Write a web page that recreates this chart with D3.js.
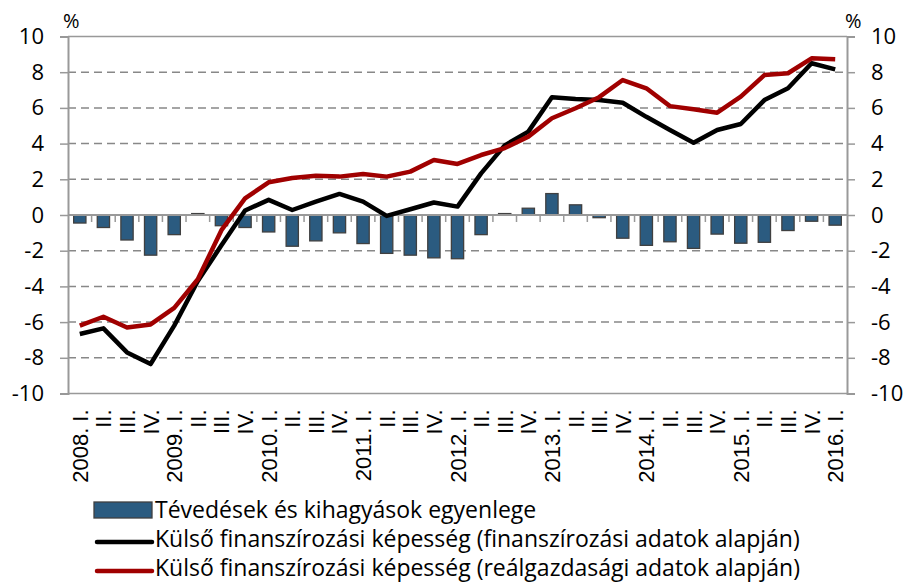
<!DOCTYPE html>
<html>
<head>
<meta charset="utf-8">
<script src="https://cdn.jsdelivr.net/npm/d3@7"></script>
<style>
  body { margin: 0; background: white; }
</style>
</head>
<body>
<svg id="chart" width="909" height="586"></svg>
<script>
// quarters 2008 I - 2016 I
var years = ["2008.", "", "", "", "2009.", "", "", "", "2010.", "", "", "", "2011.", "", "", "",
  "2012.", "", "", "", "2013.", "", "", "", "2014.", "", "", "", "2015.", "", "", "", "2016."];
var quarters = ["I.", "II.", "III.", "IV.", "I.", "II.", "III.", "IV.",
  "I.", "II.", "III.", "IV.", "I.", "II.", "III.", "IV.",
  "I.", "II.", "III.", "IV.", "I.", "II.", "III.", "IV.",
  "I.", "II.", "III.", "IV.", "I.", "II.", "III.", "IV.", "I."];

var errors = [-0.45, -0.7, -1.4, -2.25, -1.1, 0.08, -0.6, -0.7,
  -0.95, -1.75, -1.45, -1.0, -1.6, -2.15, -2.25, -2.4,
  -2.45, -1.1, 0.08, 0.38, 1.2, 0.57, -0.15, -1.3,
  -1.7, -1.5, -1.87, -1.07, -1.58, -1.53, -0.87, -0.35, -0.57];

var financial = [-6.67, -6.35, -7.7, -8.35, -6.2, -3.7, -1.7, 0.25,
  0.85, 0.28, 0.75, 1.18, 0.75, -0.05, 0.32, 0.7,
  0.47, 2.33, 3.9, 4.67, 6.6, 6.5, 6.44, 6.29,
  5.5, 4.76, 4.05, 4.76, 5.1, 6.44, 7.1, 8.5, 8.16];

var real = [-6.2, -5.7, -6.3, -6.13, -5.2, -3.6, -0.85, 0.93,
  1.83, 2.07, 2.2, 2.15, 2.3, 2.15, 2.43, 3.08,
  2.86, 3.36, 3.75, 4.39, 5.42, 5.98, 6.6, 7.56,
  7.1, 6.1, 5.92, 5.73, 6.63, 7.84, 7.94, 8.78, 8.72];

var yTicks = [-10, -8, -6, -4, -2, 0, 2, 4, 6, 8, 10];

var legendLabels = ["Tévedések és kihagyások egyenlege",
  "Külső finanszírozási képesség (finanszírozási adatok alapján)",
  "Külső finanszírozási képesség (reálgazdasági adatok alapján)"];

var svg = d3.select("#chart");
var pLeft = 68, pRight = 847, pTop = 36.5, pBottom = 393.5;

var x = d3.scaleBand().domain(d3.range(quarters.length)).range([pLeft, pRight]).paddingInner(0.48).paddingOuter(0.24);
var xc = function (i) { return x(i) + x.bandwidth() / 2; };
var step = x.step();
var y = d3.scaleLinear().domain([-10, 10]).range([pBottom, pTop]);

var numFont = "'Open Sans', Lato, sans-serif";

// grid lines
svg.append("g")
  .selectAll("line")
  .data(yTicks.filter(function (d) { return d != 0 && d != -10 && d != 10; }))
  .enter()
  .append("line")
  .attr("x1", pLeft)
  .attr("x2", pRight)
  .attr("y1", function (d) { return y(d); })
  .attr("y2", function (d) { return y(d); })
  .attr("stroke", "#888")
  .attr("stroke-width", 1.5)
  .attr("stroke-dasharray", "8,5");

svg.append("line")
  .attr("x1", pLeft).attr("x2", pRight)
  .attr("y1", y(10)).attr("y2", y(10))
  .attr("stroke", "#999").attr("stroke-width", 1.5);
svg.append("line")
  .attr("x1", pLeft).attr("x2", pRight)
  .attr("y1", y(-10)).attr("y2", y(-10))
  .attr("stroke", "#999").attr("stroke-width", 1.5);

// left and right axes
var yLeft = svg.append("g")
  .attr("transform", "translate(" + pLeft + ",0)")
  .call(d3.axisLeft(y).tickValues(yTicks).tickSize(8).tickFormat(function (d) { return String(d); }));
var yRight = svg.append("g")
  .attr("transform", "translate(" + pRight + ",0)")
  .call(d3.axisRight(y).tickValues(yTicks).tickSize(8).tickFormat(function (d) { return String(d); }));
[yLeft, yRight].forEach(function (g) {
  g.select(".domain").attr("stroke", "#999").attr("stroke-width", 2);
  g.selectAll(".tick line").attr("stroke", "#999").attr("stroke-width", 1.5);
  g.selectAll(".tick text")
    .style("font-family", numFont)
    .style("font-size", "22px")
    .attr("fill", "#000");
});
yLeft.selectAll(".tick text").attr("x", -24);
yRight.selectAll(".tick text").attr("x", 24);

svg.append("text")
  .attr("x", 63).attr("y", 28)
  .style("font-family", numFont).style("font-size", "20px")
  .text("%");
svg.append("text")
  .attr("x", 845).attr("y", 28)
  .style("font-family", numFont).style("font-size", "20px")
  .text("%");

// bars
svg.append("g")
  .selectAll("rect")
  .data(errors)
  .enter()
  .append("rect")
  .attr("x", function (d, i) { return x(i); })
  .attr("y", function (d) { return y(Math.max(d, 0)); })
  .attr("width", x.bandwidth())
  .attr("height", function (d) { return Math.abs(y(d) - y(0)); })
  .attr("fill", "#2B5B80")
  .attr("stroke", "#404040")
  .attr("stroke-width", 1.3);

// zero axis with category ticks
svg.append("line")
  .attr("x1", pLeft).attr("x2", pRight)
  .attr("y1", y(0)).attr("y2", y(0))
  .attr("stroke", "#999").attr("stroke-width", 2);
svg.append("g")
  .selectAll("line")
  .data(d3.range(1, quarters.length))
  .enter()
  .append("line")
  .attr("x1", function (i) { return pLeft + i * step; })
  .attr("x2", function (i) { return pLeft + i * step; })
  .attr("y1", y(0))
  .attr("y2", y(0) + 7)
  .attr("stroke", "#999")
  .attr("stroke-width", 1.5);

// category labels at bottom
var xLabels = svg.append("g")
  .selectAll("text")
  .data(quarters)
  .enter()
  .append("text")
  .attr("transform", function (d, i) { return "translate(" + (xc(i) + 8) + "," + (pBottom + 16) + ") rotate(-90)"; })
  .attr("text-anchor", "end")
  .style("font-family", "'Liberation Sans', Arial, sans-serif")
  .style("font-size", "22px");
xLabels.append("tspan")
  .text(function (d, i) { return years[i]; });
xLabels.append("tspan")
  .attr("dx", function (d, i) { return years[i] ? 6 : 0; })
  .text(function (d) { return d; });

// lines
var line = d3.line()
  .x(function (d, i) { return xc(i); })
  .y(function (d) { return y(d); });

svg.append("path")
  .datum(financial)
  .attr("d", line)
  .attr("fill", "none")
  .attr("stroke", "#000")
  .attr("stroke-width", 4.5)
  .attr("stroke-linejoin", "round");

svg.append("path")
  .datum(real)
  .attr("d", line)
  .attr("fill", "none")
  .attr("stroke", "#A00000")
  .attr("stroke-width", 4.5)
  .attr("stroke-linejoin", "round");

// legend
var legend = svg.append("g");
legend.append("rect")
  .attr("x", 94).attr("y", 502)
  .attr("width", 58).attr("height", 16)
  .attr("fill", "#2B5B80")
  .attr("stroke", "#404040")
  .attr("stroke-width", 1.3);
legend.append("line")
  .attr("x1", 97).attr("x2", 152)
  .attr("y1", 542).attr("y2", 542)
  .attr("stroke", "#000").attr("stroke-width", 4.5).attr("stroke-linecap", "round");
legend.append("line")
  .attr("x1", 97).attr("x2", 152)
  .attr("y1", 571).attr("y2", 571)
  .attr("stroke", "#A00000").attr("stroke-width", 4.5).attr("stroke-linecap", "round");

legend.selectAll("text")
  .data(legendLabels)
  .enter()
  .append("text")
  .attr("x", 155)
  .attr("y", function (d, i) { return 518 + i * 29; })
  .style("font-family", numFont)
  .style("font-size", "23px")
  .text(function (d) { return d; });
</script>
</body>
</html>
